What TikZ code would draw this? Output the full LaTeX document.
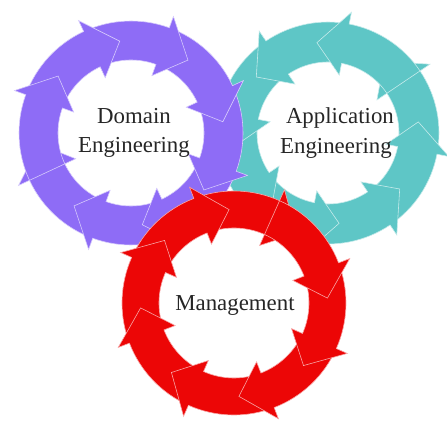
\documentclass[tikz,border=0pt]{standalone}
\usepackage{fontspec}
\setmainfont{Liberation Serif}
\usetikzlibrary{calc}
\definecolor{domainpurple}{RGB}{142,108,246}
\definecolor{appteal}{RGB}{94,198,198}
\definecolor{mgmtred}{RGB}{236,6,6}

% one curved arrow of a ring: centre, start angle, end angle, colour
\newcommand{\ringseg}[4]{%
  \pgfmathsetmacro{\segs}{#2}%
  \pgfmathsetmacro{\sege}{#3}%
  \pgfmathsetmacro{\segt}{\sege+18*sign(\sege-\segs)}%
  \pgfmathsetmacro{\wingout}{\ringout+12}%
  \pgfmathsetmacro{\wingin}{\ringin-12}%
  \pgfmathsetmacro{\ringmid}{(\ringout+\ringin)/2}%
  \filldraw[segline, fill=#4, draw=#4!35!white]
    ($(#1)+(\segs:\ringout)$) arc[start angle=\segs, end angle=\sege, radius=\ringout]
    -- ($(#1)+(\sege:\wingout)$) -- ($(#1)+(\segt:\ringmid)$)
    -- ($(#1)+(\sege:\wingin)$) -- ($(#1)+(\sege:\ringin)$)
    arc[start angle=\sege, end angle=\segs, radius=\ringin] -- cycle;
}

\begin{document}
\begin{tikzpicture}[x=0.03cm, y=0.03cm,
  segline/.style={line width=0.5pt, line join=miter},
  ringtext/.style={font=\fontsize{19.5}{25}\selectfont, text=black!85, align=center}]
  \useasboundingbox (0,0) rectangle (447,423);
  \coordinate (cdom) at (131,290);
  \coordinate (capp) at (328,290);
  \coordinate (cmgmt) at (234,120);

  % application engineering ring (anticlockwise)
  \def\ringout{111}\def\ringin{71}
  \foreach \k in {7,...,0}{\ringseg{capp}{34+45*\k}{79+45*\k}{appteal}}

  % domain engineering ring (clockwise)
  \def\ringout{112}\def\ringin{73}
  \foreach \k in {7,...,0}{\ringseg{cdom}{205-45*\k}{160-45*\k}{domainpurple}}

  % management ring (clockwise)
  \def\ringout{112}\def\ringin{75}
  \foreach \k in {7,...,0}{\ringseg{cmgmt}{66-45*\k}{21-45*\k}{mgmtred}}

  \node[ringtext] (dom) at (134,290) {Domain\\Engineering};
  \node[ringtext, align=left] (app) at (337,290) {\hspace{5pt}Application\\Engineering};
  \node[ringtext] (mgmt) at (235,118) {Management};
\end{tikzpicture}
\end{document}
